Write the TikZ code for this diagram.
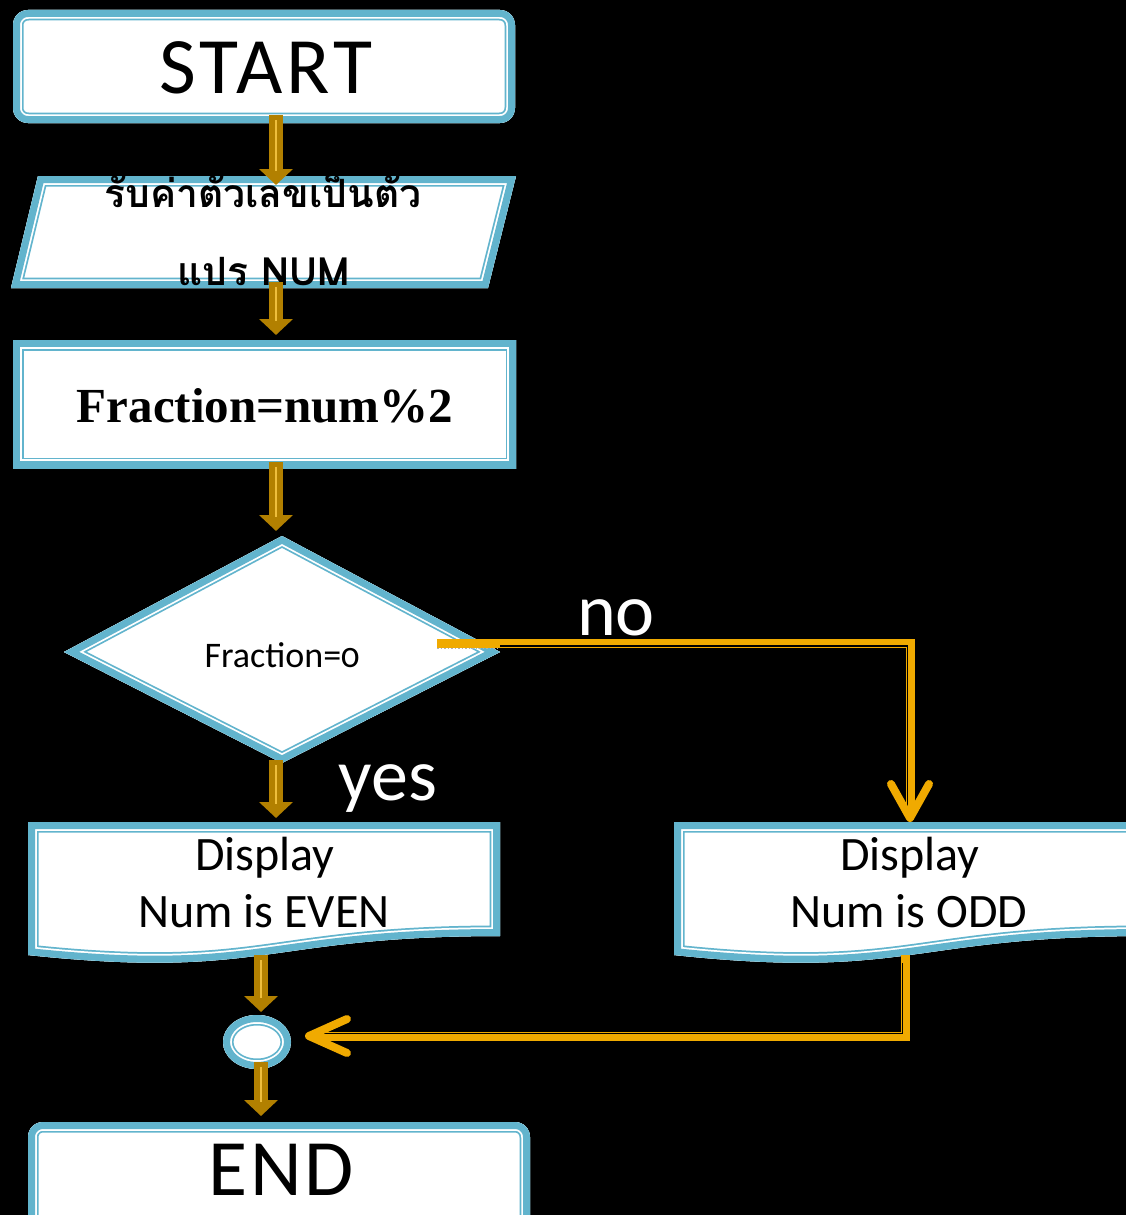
\documentclass[tikz,border=0pt]{standalone}
\usepackage{fontspec}
\setmainfont{Carlito}
\newfontfamily\thaifont[Script=Thai]{Loma}
\newfontfamily\timesfont{Liberation Serif}
\usetikzlibrary{arrows.meta,calc}
\definecolor{shpblue}{RGB}{98,180,205}
\definecolor{brn}{RGB}{178,128,0}
\definecolor{brnlt}{RGB}{238,190,60}
\definecolor{gld}{RGB}{240,170,0}
\newcommand{\fcshape}[2][]{%
  \begin{scope}[#1]
    \clip #2;
    \fill[white] #2;
    \draw[shpblue,line width=21pt] #2;
    \draw[white,line width=17.5pt] #2;
    \draw[shpblue,line width=14pt] #2;
  \end{scope}}
\newcommand{\brarr}[2]{%
  \draw[brarrow] #1 -- #2;
  \draw[brinner] #1 -- #2;}
\begin{document}
\begin{tikzpicture}[x=1pt,y=-1pt,
  bb/.style={inner sep=0pt,outer sep=0pt,draw=none},
  txt/.style={inner sep=0pt,anchor=base,text=black},
  brarrow/.style={brn,line width=14pt,-{Triangle[length=16pt,width=33pt]}},
  brinner/.style={brnlt,line width=1.2pt,shorten <=5pt,shorten >=14pt},
  gline/.style={gld,line width=9pt},
  ggap/.style={black,line width=1.5pt},
  chev/.style={gld,line width=8pt,line cap=round,line join=round},
  wlabel/.style={inner sep=0pt,anchor=base,text=white,font=\fontsize{74}{88}\selectfont}]
\fill[black] (0,0) rectangle (1126,1215);
\useasboundingbox (0,0) rectangle (1126,1215);

% shapes
\fcshape[rounded corners=15pt]{(13,10) rectangle (515,123)}
\fcshape{(38,176) -- (516,176) -- (488,288) -- (11,288) -- cycle}
\fcshape{(13,340) rectangle (516,468)}
\fcshape{(64,652) -- (282,536) -- (500,652) -- (282,763) -- cycle}
\fcshape{(28,822) -- (500,822) -- (500,936) .. controls (264,936) and (264,980) .. (28,955) -- cycle}
\fcshape{(674,822) -- (1146,822) -- (1146,936) .. controls (910,936) and (910,980) .. (674,955) -- cycle}
\fcshape{(257,1042) ellipse [x radius=34pt, y radius=27pt]}
\fcshape[rounded corners=15pt]{(28,1122) rectangle (530,1250)}

% bounding nodes of the shapes
\node[bb,minimum width=502pt,minimum height=113pt] (start) at (264,66.5) {};
\node[bb,minimum width=505pt,minimum height=112pt] (in) at (263.5,232) {};
\node[bb,minimum width=503pt,minimum height=128pt] (frac) at (264.5,404) {};
\node[bb,minimum width=436pt,minimum height=227pt] (dia) at (282,649.5) {};
\node[bb,minimum width=472pt,minimum height=133pt] (even) at (264,888.5) {};
\node[bb,minimum width=472pt,minimum height=133pt] (odd) at (910,888.5) {};
\node[bb,minimum width=68pt,minimum height=54pt] (conn) at (257,1042) {};
\node[bb,minimum width=502pt,minimum height=128pt] (stop) at (279,1186) {};

% texts
\node[txt,font=\fontsize{80}{96}\selectfont\addfontfeatures{LetterSpace=5}] (startT) at (266,93) {START};
\node[txt,font=\thaifont\bfseries\fontsize{39}{46}\selectfont] (inT1) at (263,207) {รับค่าตัวเลขเป็นตัว};
\node[txt,font=\thaifont\bfseries\fontsize{39}{46}\selectfont] (inT2) at (264,285) {แปร NUM};
\node[txt,font=\timesfont\bfseries\fontsize{49}{58}\selectfont] (fracT) at (265,422) {Fraction=num\%2};
\node[txt,font=\fontsize{36}{43}\selectfont] (diaT) at (282,667) {Fraction={\addfontfeatures{Numbers=OldStyle}0}};
\node[txt,font=\fontsize{48}{57}\selectfont] (evenT1) at (265,870) {Display};
\node[txt,font=\fontsize{48}{57}\selectfont] (evenT2) at (264,927) {Num is EVEN};
\node[txt,font=\fontsize{48}{57}\selectfont] (oddT1) at (910,870) {Display};
\node[txt,font=\fontsize{48}{57}\selectfont] (oddT2) at (909,927) {Num is ODD};
\node[txt,font=\fontsize{80}{96}\selectfont\addfontfeatures{LetterSpace=3}] (stopT) at (281,1195) {END};

% labels
\node[wlabel] (no) at (616,635) {no};
\node[wlabel] (yes) at (388,800) {yes};

% brown flow arrows
\coordinate (ax) at (276,0);
\coordinate (bx) at (261,0);
\brarr{($(start.south -| ax)+(0,-8)$)}{($(in.north -| ax)+(0,9)$)}
\brarr{($(in.south -| ax)+(0,-6)$)}{($(frac.north -| ax)+(0,-5)$)}
\brarr{($(frac.south -| ax)+(0,-6)$)}{($(dia.north -| ax)+(0,-5)$)}
\brarr{($(dia.south -| ax)+(0,-3)$)}{($(even.north -| ax)+(0,-4)$)}
\brarr{($(even.south -| bx)+(0,0)$)}{($(conn.north -| bx)+(0,-3)$)}
\brarr{($(conn.south -| bx)+(0,-7)$)}{($(stop.north -| bx)+(0,-6)$)}

% no branch
\coordinate (nostart) at ($(dia.east)+(-63,-6)$);
\draw[gline] (nostart) -| ($(odd.north)+(0,-10)$);
\draw[gray!60,line width=1.5pt,dotted] ($(nostart)+(0,5)$) -- ($(dia.east)+(0,-1)$);
\draw[ggap] ($(dia.east)+(0,-3.5)$) -| ($(odd.north)+(-2.5,-14)$);
\draw[chev] ($(odd.north)+(-19,-38)$) -- ($(odd.north)+(0,-4)$) -- ($(odd.north)+(19,-38)$);

% odd to connector
\draw[gline] ($(odd.south)+(-5,0)$) |- ($(conn.east)+(22,-6)$);
\draw[ggap] ($(odd.south)+(-7.5,8)$) |- ($(conn.east)+(26,-8.5)$);
\draw[chev] ($(conn.east)+(56,-23)$) -- ($(conn.east)+(18,-6)$) -- ($(conn.east)+(56,11)$);
\end{tikzpicture}
\end{document}
